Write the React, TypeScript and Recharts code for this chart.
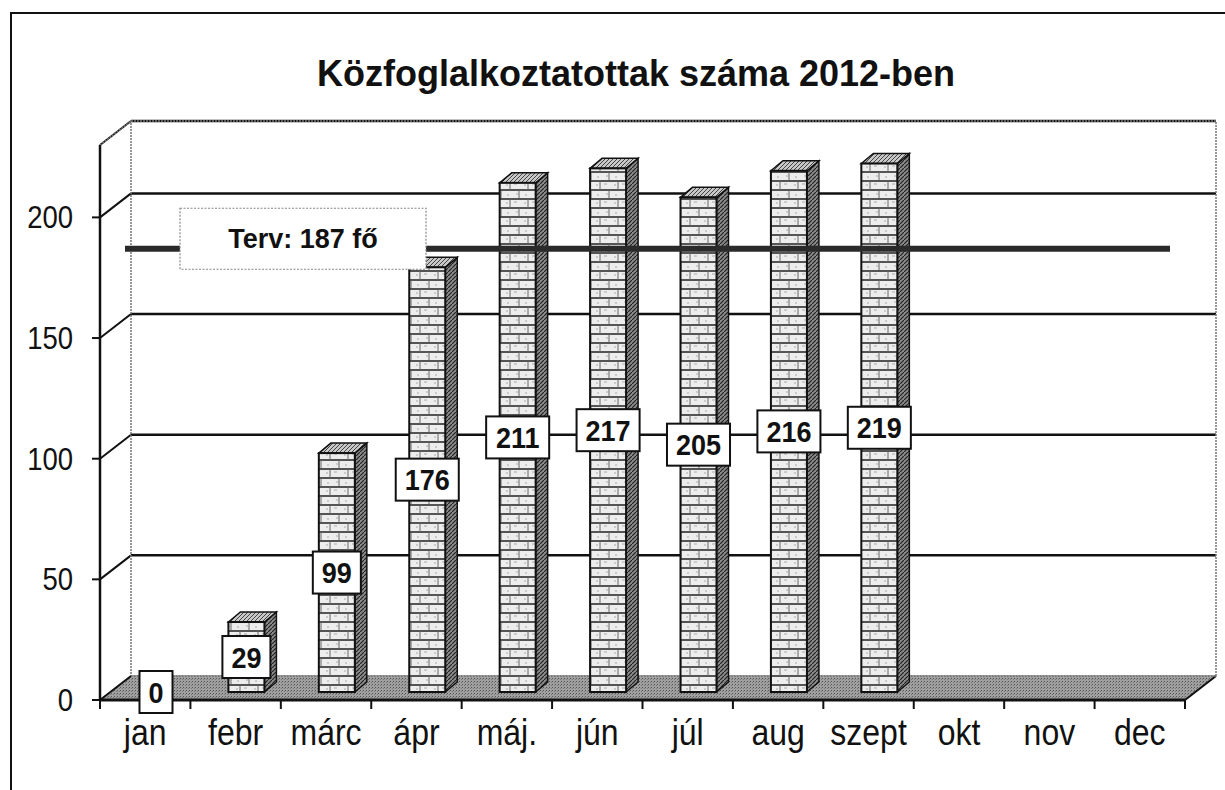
import React from 'react';
import {
  ComposedChart, Bar, XAxis, YAxis, CartesianGrid, ReferenceLine, ReferenceArea, LabelList,
} from 'recharts';

// ---- data ----
const months = ['jan', 'febr', 'márc', 'ápr', 'máj.', 'jún', 'júl', 'aug', 'szept', 'okt', 'nov', 'dec'];
const values: (number | null)[] = [0, 29, 99, 176, 211, 217, 205, 216, 219, null, null, null];
const yTicks = [0, 50, 100, 150, 200];
const TARGET = 187;
const TARGET_LABEL = 'Terv: 187 fő';
const TITLE = 'Közfoglalkoztatottak száma 2012-ben';

const data = months.map((m, i) => ({ month: m, value: values[i] }));

// ---- layout / style ----
const W = 1225;
const H = 790;
const MARGIN = { top: 145, right: 40, bottom: 30, left: 0 };
const Y_AXIS_W = 100;
const X_AXIS_H = 60;
const PLOT_W = W - MARGIN.left - MARGIN.right - Y_AXIS_W;
const FONT = '"Liberation Sans", Arial, sans-serif';

const WALL_DX = 31;
const WALL_DY = 24;
const BAR_SHIFT_X = 11;
const BAR_SHIFT_Y = 8;
const BAR_DEPTH_X = 12;
const BAR_DEPTH_Y = 10;

const BrickBar = (props: any) => {
  const { x, y, width, height } = props;
  if (x == null || height == null || height <= 0) return <g />;
  const fx = x + BAR_SHIFT_X;
  const fy = y - BAR_SHIFT_Y;
  const side = `${fx + width},${fy} ${fx + width + BAR_DEPTH_X},${fy - BAR_DEPTH_Y} ${fx + width + BAR_DEPTH_X},${fy + height - BAR_DEPTH_Y} ${fx + width},${fy + height}`;
  const top = `${fx},${fy} ${fx + BAR_DEPTH_X},${fy - BAR_DEPTH_Y} ${fx + width + BAR_DEPTH_X},${fy - BAR_DEPTH_Y} ${fx + width},${fy}`;
  return (
    <g>
      <polygon points={side} fill="url(#hatchDark)" stroke="#111" strokeWidth={1.5} />
      <polygon points={top} fill="url(#hatchLight)" stroke="#111" strokeWidth={1.5} />
      <rect x={fx} y={fy} width={width} height={height} fill="url(#brick)" stroke="#111" strokeWidth={2} />
    </g>
  );
};

const ValueBox = (props: any) => {
  const { x, y, width, height, value } = props;
  if (value == null) return null;
  const txt = String(value);
  const fs = 27;
  const tw = txt.length * 0.556 * fs;
  const bw = tw + 18;
  const bh = 42;
  const cx = x + width / 2 + BAR_SHIFT_X;
  const cy = y + height / 2 - BAR_SHIFT_Y;
  return (
    <g>
      <rect x={cx - bw / 2} y={cy - bh / 2} width={bw} height={bh} fill="#fff" stroke="#111" strokeWidth={2} />
      <text
        transform={`translate(${cx},${cy}) scale(1,1.1)`}
        textAnchor="middle"
        dy="0.36em"
        fontFamily={FONT}
        fontWeight="bold"
        fontSize={fs}
        fill="#111"
      >
        {txt}
      </text>
    </g>
  );
};

const X_TICK = 9;
const XTick = (props: any) => {
  const { x, y, payload, index } = props;
  const half = PLOT_W / months.length / 2;
  const ay = y - X_TICK;
  return (
    <g>
      <line x1={x - half} y1={ay} x2={x - half} y2={ay + X_TICK} stroke="#111" strokeWidth={2} />
      {index === months.length - 1 && (
        <line x1={x + half} y1={ay} x2={x + half} y2={ay + X_TICK} stroke="#111" strokeWidth={2} />
      )}
      <text
        transform={`translate(${x},${y + 36}) scale(1,1.15)`}
        textAnchor="middle"
        fontFamily={FONT}
        fontSize={32}
        fill="#111"
      >
        {payload.value}
      </text>
    </g>
  );
};

const YTick = (props: any) => {
  const { x, y, payload } = props;
  return (
    <text
      transform={`translate(${x},${y}) scale(1,1.12)`}
      textAnchor="end"
      dy="0.355em"
      fontFamily={FONT}
      fontSize={27.5}
      fill="#111"
    >
      {payload.value}
    </text>
  );
};

const GridLine = (props: any) => {
  const { x1, x2, y1, y, height, index } = props;
  const isFloor = y != null && height != null ? y1 >= y + height - 0.5 : index === 0;
  if (isFloor) return <g key={`g${index}`} />;
  return (
    <g key={`g${index}`}>
      <line x1={x1} y1={y1} x2={x1 + WALL_DX} y2={y1 - WALL_DY} stroke="#111" strokeWidth={2} />
      <line x1={x1 + WALL_DX} y1={y1 - WALL_DY} x2={x2 + WALL_DX} y2={y1 - WALL_DY} stroke="#111" strokeWidth={2.5} />
    </g>
  );
};

const Walls = (props: any) => {
  const { x, y, width, height } = props;
  return (
    <g>
      <rect x={x + WALL_DX} y={y - WALL_DY} width={width} height={height} fill="none" stroke="#777" strokeWidth={1.5} strokeDasharray="2 1" />
      <line x1={x} y1={y} x2={x + WALL_DX} y2={y - WALL_DY} stroke="#777" strokeWidth={1.5} strokeDasharray="2 1" />
    </g>
  );
};

const Floor = (props: any) => {
  const { x, y, width, height } = props;
  const by = y + height;
  const pts = `${x},${by} ${x + width},${by} ${x + width + WALL_DX},${by - WALL_DY} ${x + WALL_DX},${by - WALL_DY}`;
  return (
    <g>
      <polygon points={pts} fill="url(#floorPat)" stroke="none" />
      <line x1={x} y1={by} x2={x + WALL_DX} y2={by - WALL_DY} stroke="#111" strokeWidth={2} />
      <line x1={x + width} y1={by} x2={x + width + WALL_DX} y2={by - WALL_DY} stroke="#111" strokeWidth={2} />
      <line x1={x + WALL_DX} y1={by - WALL_DY} x2={x + width + WALL_DX} y2={by - WALL_DY} stroke="#777" strokeWidth={1.5} strokeDasharray="2 1" />
    </g>
  );
};

const TargetLine = (props: any) => {
  const { x1, y1, x2, y2 } = props;
  return <line x1={x1 + 25} y1={y1} x2={x2 - 15} y2={y2} stroke="#2a2a2a" strokeWidth={6} />;
};

const TargetLabel = (props: any) => {
  const vb = props.viewBox || {};
  const cx = (vb.x ?? 0) + 203;
  const cy = (vb.y ?? 0) - 10;
  const bw = 246;
  const bh = 61;
  return (
    <g>
      <rect x={cx - bw / 2} y={cy - bh / 2} width={bw} height={bh} fill="#fff" stroke="#888" strokeWidth={1.2} strokeDasharray="2 1.5" />
      <text x={cx} y={cy} dy="0.36em" textAnchor="middle" fontFamily={FONT} fontWeight="bold" fontSize={27} fill="#111">
        {TARGET_LABEL}
      </text>
    </g>
  );
};

export default function App() {
  return (
    <div style={{ position: 'absolute', left: 0, top: 0, width: W, height: H, background: '#fff' }}>
      <svg width={W} height={H} style={{ position: 'absolute', left: 0, top: 0 }}>
        <rect x={11} y={13} width={W + 100} height={H + 100} fill="#fff" stroke="#111" strokeWidth={2} />
        <text x={636} y={86} textAnchor="middle" fontFamily={FONT} fontWeight="bold" fontSize={36} fill="#111">
          {TITLE}
        </text>
      </svg>
      <div style={{ position: 'absolute', left: 0, top: 0 }}>
        <ComposedChart width={W} height={H} data={data} margin={MARGIN}>
          <defs>
            <pattern id="brick" width="18" height="18" patternUnits="userSpaceOnUse">
              <rect width="18" height="18" fill="#ededed" />
              <path d="M0 1H18M0 10H18" stroke="#222" strokeWidth="1.6" />
              <path d="M6 1V10M15 10V18" stroke="#666" strokeWidth="1" />
              <path d="M2 5h2M10 4h3M12 14h2M3 15h2" stroke="#aaa" strokeWidth="1" />
            </pattern>
            <pattern id="hatchDark" width="4" height="4" patternUnits="userSpaceOnUse">
              <rect width="4" height="4" fill="#8a8a8a" />
              <path d="M0 4L4 0" stroke="#222" strokeWidth="1.2" />
            </pattern>
            <pattern id="hatchLight" width="4" height="4" patternUnits="userSpaceOnUse">
              <rect width="4" height="4" fill="#c8c8c8" />
              <path d="M0 4L4 0" stroke="#444" strokeWidth="1" />
            </pattern>
            <pattern id="floorPat" width="3" height="3" patternUnits="userSpaceOnUse">
              <rect width="3" height="3" fill="#a0a0a0" />
              <rect x="0" y="0" width="1" height="1" fill="#555" />
              <rect x="2" y="1" width="1" height="1" fill="#777" />
            </pattern>
          </defs>
          <ReferenceArea y1={0} y2={230} shape={Walls} ifOverflow="visible" />
          <CartesianGrid vertical={false} horizontal={GridLine} />
          <ReferenceArea y1={0} y2={10} shape={Floor} ifOverflow="visible" />
          <XAxis
            dataKey="month"
            height={X_AXIS_H}
            tickLine={false}
            tickSize={X_TICK}
            tickMargin={0}
            axisLine={{ stroke: '#111', strokeWidth: 3 }}
            tick={XTick}
            interval={0}
          />
          <YAxis
            width={Y_AXIS_W}
            domain={[0, 230]}
            ticks={yTicks}
            tickSize={8}
            tickMargin={19}
            tickLine={{ stroke: '#111', strokeWidth: 2 }}
            axisLine={{ stroke: '#111', strokeWidth: 2.5 }}
            tick={YTick}
            allowDataOverflow
          />
          <Bar dataKey="value" barSize={36} shape={BrickBar} isAnimationActive={false}>
            <LabelList dataKey="value" content={ValueBox} />
          </Bar>
          <ReferenceLine y={TARGET} shape={TargetLine} label={TargetLabel} ifOverflow="visible" />
        </ComposedChart>
      </div>
    </div>
  );
}
